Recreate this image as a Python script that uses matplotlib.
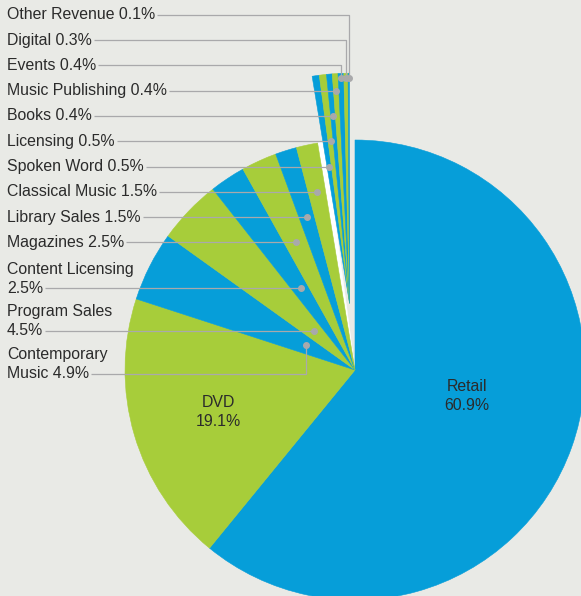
import matplotlib.pyplot as plt
import numpy as np
from matplotlib.patches import Wedge

plt.rcParams['font.family'] = ['Liberation Sans', 'DejaVu Sans']

# Revenue mix, clockwise from 12 o'clock
categories = ['Retail', 'DVD', 'Contemporary Music', 'Program Sales',
              'Content Licensing', 'Magazines', 'Library Sales',
              'Classical Music', 'Spoken Word', 'Licensing', 'Books',
              'Music Publishing', 'Events', 'Digital', 'Other Revenue']
shares = [60.9, 19.1, 4.9, 4.5, 2.5, 2.5, 1.5, 1.5, 0.5, 0.5, 0.4, 0.4,
          0.4, 0.3, 0.1]

# labels that wrap onto two lines
wrapped = {'Content Licensing': 'Content Licensing\n{}%',
           'Program Sales': 'Program Sales\n{}%',
           'Contemporary Music': 'Contemporary\nMusic {}%'}

W, H = 581, 596
BG = '#e9eae6'
BLUE = '#069ed9'
GREEN = '#a7cd3a'
GREY = '#a9a9ab'
INK = '#2b2b2b'
FS = 11.4

cx, cy = 355, H - 370      # pie centre (pixels, y up)
R = 230
first_small = 8             # slices from here on are pulled out together
pull = 67

# leader line heights, measured from the top edge
line_y = {'Other Revenue': 14.7, 'Digital': 40, 'Events': 65.3,
          'Music Publishing': 90.6, 'Books': 115.9, 'Licensing': 141.2,
          'Spoken Word': 166.5, 'Classical Music': 191.8,
          'Library Sales': 217.1, 'Magazines': 242.4,
          'Content Licensing': 288.3, 'Program Sales': 330.7,
          'Contemporary Music': 374}
# leaders that bend: dot sits at this fraction of the radius
elbow = {'Other Revenue': 0.98, 'Digital': 0.98, 'Events': 0.98,
         'Contemporary Music': 0.24}


def main():
    fig = plt.figure(figsize=(W / 100, H / 100), dpi=100, facecolor=BG)
    ax = fig.add_axes([0, 0, 1, 1])
    ax.set_facecolor(BG)

    colors = [BLUE if i % 2 == 0 else GREEN for i in range(len(shares))]
    wedges, _ = ax.pie(shares, colors=colors, startangle=90,
                       counterclock=False, radius=R, center=(cx, cy))
    for w, c in zip(wedges, colors):
        w.set_edgecolor(c)
        w.set_linewidth(0.4)

    # white slot left behind next to Classical Music
    slot = wedges[first_small]
    ax.add_patch(Wedge((cx, cy), R, slot.theta1, slot.theta2,
                       facecolor='white', edgecolor='white', lw=0.4,
                       zorder=0.5))

    # pull the small slices out as one group
    small = wedges[first_small:]
    lo = min(w.theta1 for w in small)
    hi = max(w.theta2 for w in small)
    mid = np.radians((lo + hi) / 2)
    scx, scy = cx + pull * np.cos(mid), cy + pull * np.sin(mid)
    for w in small:
        w.set_center((scx, scy))

    ax.set_xlim(0, W)
    ax.set_ylim(0, H)
    ax.set_aspect('equal')
    ax.axis('off')

    texts = {}
    for name, val in zip(categories, shares):
        if name not in line_y:
            continue
        lab = wrapped.get(name, '{} {}%'.format(name, '{}')).format(val)
        lines = lab.split('\n')
        y = H - line_y[name]
        for k, ln in enumerate(reversed(lines)):
            t = ax.text(7, y + 19 * k, ln, fontsize=FS, color=INK,
                        ha='left', va='center')
            if k == 0:
                texts[name] = t

    fig.canvas.draw()
    rend = fig.canvas.get_renderer()

    for i, name in enumerate(categories):
        if name not in line_y:
            continue
        w = wedges[i]
        ang = np.radians((w.theta1 + w.theta2) / 2)
        wx, wy = w.center
        y = H - line_y[name]
        x0 = texts[name].get_window_extent(rend).x1 + 2
        if name in elbow:
            r = elbow[name] * R
            dx, dy = wx + r * np.cos(ang), wy + r * np.sin(ang)
            xs, ys = [x0, dx, dx], [y, y, dy]
        else:
            r = (y - wy) / np.sin(ang)
            dx, dy = wx + r * np.cos(ang), y
            xs, ys = [x0, dx], [y, y]
        ax.plot(xs, ys, color=GREY, lw=0.9, zorder=5, solid_capstyle='butt')
        ax.plot([dx], [dy], 'o', color=GREY, ms=4, zorder=6)

    # in-slice labels: (angle deg, radius fraction)
    inner = {'Retail': (-13, 0.5), 'DVD': (197, 0.62)}
    for name, val in zip(categories, shares):
        if name not in inner:
            continue
        a, f = inner[name]
        x = cx + f * R * np.cos(np.radians(a))
        y = cy + f * R * np.sin(np.radians(a))
        ax.text(x, y + 9.5, name, fontsize=FS, color=INK, ha='center',
                va='center', zorder=7)
        ax.text(x, y - 9.5, '{}%'.format(val), fontsize=FS, color=INK,
                ha='center', va='center', zorder=7)

    fig.savefig('out.png', dpi=100, facecolor=BG)


if __name__ == "__main__":
    main()
